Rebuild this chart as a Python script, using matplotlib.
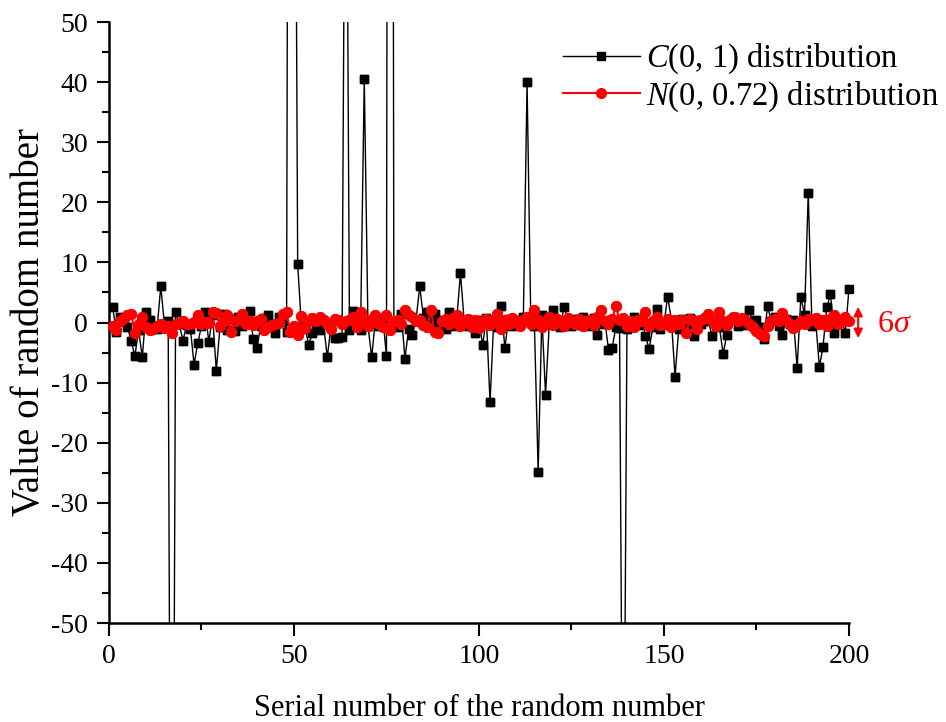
import numpy as np
import matplotlib
matplotlib.use("Agg")
import matplotlib.pyplot as plt
from matplotlib.ticker import MultipleLocator

plt.rcParams["font.family"] = ["Liberation Serif", "DejaVu Serif"]
plt.rcParams["mathtext.fontset"] = "custom"
plt.rcParams["mathtext.rm"] = "Liberation Serif"
plt.rcParams["mathtext.it"] = "Liberation Serif:italic"
plt.rcParams["axes.unicode_minus"] = False

# serial numbers 1..200
serial = list(range(1, 201))

# C(0, 1) samples (values far outside +-50 are clipped)
cauchy = [
    2.5, -1.5, 1.0, 0.3, -0.8, -3.0, -5.6, -1.2, -5.8, 1.8,
    0.5, -0.6, -1.0, 6.0, -0.4, 0.3, -150.0, 1.8, -0.3, -3.0,
    -0.4, -1.0, -7.0, -3.4, -0.6, 1.7, -3.2, 1.2, -8.0, -0.8,
    1.5, -1.2, 0.6, -1.4, 1.0, -0.5, 0.4, 1.9, -2.7, -4.2,
    -0.6, 0.8, 1.2, -0.3, -1.7, 0.9, 0.2, -1.5, 260.0, 140.0,
    9.7, -0.5, -1.0, -3.7, -1.7, -0.8, -1.2, -0.3, -5.8, -0.6,
    -2.5, -2.5, -2.4, 110.0, -1.2, 1.9, 0.3, -1.2, 40.5, -0.5,
    -5.8, 0.4, -0.5, 0.8, -5.5, 420.0, 0.0, -0.8, 1.5, -6.0,
    -1.0, -2.0, 0.5, 6.0, 0.8, 1.7, 0.2, 1.5, -0.8, 0.4,
    -1.0, 1.7, -0.5, 0.6, 8.2, 0.3, -0.5, 0.0, -1.8, 0.5,
    -3.8, 0.8, -13.3, 0.5, -0.8, 2.7, -4.2, 0.6, -0.5, 0.4,
    -0.3, 0.9, 40.0, 0.8, -0.6, -24.8, 1.2, -12.0, -0.3, 2.0,
    0.3, -0.8, 2.6, 0.4, -0.5, 0.6, -0.4, 1.0, 0.2, -0.6,
    0.8, -2.0, -0.3, 0.5, -4.5, -4.2, -0.8, -0.9, -100.0, -1.0,
    -0.6, 0.9, -0.4, 0.6, -2.3, -4.4, -0.8, 2.2, -1.0, -0.3,
    4.3, 0.5, -9.0, -1.0, 0.6, -0.5, 0.8, -2.3, 0.4, -0.3,
    0.8, 0.2, -2.2, 0.5, -0.8, -5.2, -2.0, 0.4, 1.0, -0.5,
    0.3, -0.4, 2.0, 0.2, 0.5, -0.8, -2.7, 2.7, 0.2, 1.0,
    -0.5, -2.0, 0.6, -0.3, 0.4, -7.5, 4.2, 1.3, 21.5, -0.5,
    0.4, -7.4, -4.0, 2.5, 4.7, -1.8, 0.3, 0.6, -1.8, 5.5,
]

# N(0, 0.72) samples
normal = [
    -0.5, -1.3, 0.2, 0.8, 1.2, 1.5, -1.7, -0.3, 1.0, -0.7,
    -1.2, -1.0, -0.6, -0.3, -0.9, -0.5, -1.7, -0.2, 0.0, 0.3,
    -0.2, -0.3, 0.1, 1.3, -0.2, 0.1, -0.1, 1.8, 1.6, -0.6,
    0.3, 1.2, -1.6, 0.2, 0.5, 1.5, -0.3, 0.2, -0.4, 0.3,
    0.6, -1.2, -0.8, -0.4, -0.2, -0.1, 1.5, 1.7, -1.6, -0.5,
    -2.0, 1.1, -0.9, 0.2, 0.8, 0.3, 0.9, 0.5, -0.2, -1.0,
    0.6, 0.4, -0.2, 0.3, 0.5, 1.0, -0.8, 1.8, 0.4, -0.6,
    0.6, 1.2, -0.3, -0.8, 1.2, -1.2, 0.3, 0.5, -0.2, 2.0,
    1.2, 0.9, 0.3, 0.5, -0.4, -0.8, 2.0, -1.6, -1.7, 0.3,
    0.6, -0.3, 0.8, 1.2, -0.5, 0.2, 0.6, -0.8, 0.4, -0.9,
    0.2, 0.6, -0.4, 0.3, 1.5, -1.1, 0.5, -0.3, 0.8, 0.2,
    -0.6, 0.4, 0.9, -0.2, 2.0, 0.5, -0.8, 0.3, 1.0, -0.4,
    0.6, 0.2, -0.5, 0.8, 0.4, -0.3, 0.6, -0.6, 0.2, 0.5,
    -0.4, 0.9, 2.1, 0.3, -0.2, 0.6, 2.7, 0.4, 0.8, -0.5,
    0.3, -0.8, 0.5, 0.2, 1.8, -0.6, 0.3, 0.9, -0.4, -0.2,
    0.6, -0.8, 0.4, -0.3, 0.5, -1.8, 0.6, 0.2, -1.0, 0.4,
    0.8, 1.4, 0.2, -0.5, 1.8, 0.3, -0.4, 0.6, 1.0, 0.2,
    0.8, 0.4, -0.2, -0.8, -1.4, -1.9, -2.2, -0.5, 0.3, 0.6,
    0.2, 1.6, 0.4, -0.2, -0.9, -0.4, 0.3, -0.3, 0.6, 0.5,
    0.8, -0.2, 0.4, -0.5, 0.6, 1.2, -0.3, 0.2, 0.9, 0.3,
]

x = np.array(serial)
c = np.array(cauchy)
n = np.array(normal)

fig = plt.figure(figsize=(9.46, 7.22), dpi=100)
ax = fig.add_axes([0.1152, 0.1371, 0.7822, 0.8324])

# lines (clipped to the axes) plus markers (unclipped, only in range)
ax.plot(x, c, color="black", lw=1.0, marker="s", ms=6, zorder=2,
        label=r"$C$(0, 1) distribution")
inside = np.abs(c) <= 50
ax.plot(x[inside], c[inside], ls="none", color="black", marker="s", ms=6,
        zorder=2.1, clip_on=False)
ax.plot(x, n, color="red", lw=1.5, marker="o", ms=7, zorder=3,
        label=r"$N$(0, 0.72) distribution")
ax.plot(x, n, ls="none", color="red", marker="o", ms=7, zorder=3.1,
        clip_on=False)

ax.set_xlim(0, 200)
ax.set_ylim(-50, 50)
ax.xaxis.set_major_locator(MultipleLocator(50))
ax.xaxis.set_minor_locator(MultipleLocator(25))
ax.yaxis.set_major_locator(MultipleLocator(10))
ax.yaxis.set_minor_locator(MultipleLocator(5))
ax.tick_params(which="major", direction="out", length=9, width=1.5,
               labelsize=20, pad=6)
ax.tick_params(which="minor", direction="out", length=5, width=1.5)

for side in ["top", "right"]:
    ax.spines[side].set_visible(False)
for side in ["left", "bottom"]:
    ax.spines[side].set_linewidth(1.8)

ax.set_xlabel("Serial number of the random number", fontsize=22, labelpad=18)
ax.set_ylabel("Value of random number", fontsize=28, labelpad=2)

ax.legend(loc="upper left", bbox_to_anchor=(0.595, 0.942),
          bbox_transform=fig.transFigure, frameon=False, fontsize=23.5,
          handlelength=2.35, handletextpad=0.2, labelspacing=0.1,
          borderpad=0, borderaxespad=0)

# 6 sigma band marker
ax.annotate("", xy=(202.5, 2.6), xytext=(202.5, -2.6),
            arrowprops=dict(arrowstyle="<|-|>", color="red", lw=1.5,
                            mutation_scale=13, shrinkA=0, shrinkB=0),
            annotation_clip=False)
ax.text(207.5, -0.3, r"6$\sigma$", color="red", fontsize=23,
        va="center", ha="left", clip_on=False)

fig.savefig("out.png", dpi=100)
